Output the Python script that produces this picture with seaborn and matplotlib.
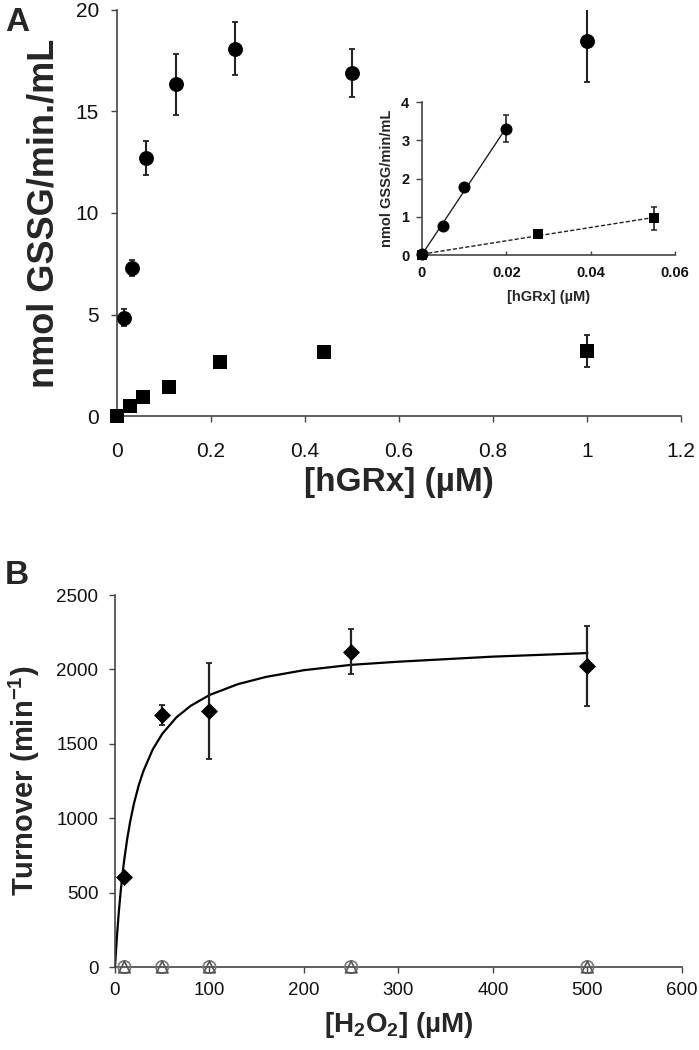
import numpy as np
import pandas as pd
import matplotlib
matplotlib.use("Agg")
import matplotlib.pyplot as plt
import seaborn as sns

sns.set_style("ticks")
plt.rcParams["font.family"] = ["Liberation Sans", "DejaVu Sans"]
plt.rcParams["mathtext.fontset"] = "custom"
plt.rcParams["mathtext.rm"] = "Liberation Sans"
plt.rcParams["mathtext.bf"] = "Liberation Sans:bold"
plt.rcParams["mathtext.default"] = "bf"

# ---------------- Panel A data ----------------
hgrx_circ = [0.015625, 0.03125, 0.0625, 0.125, 0.25, 0.5, 1.0]
rate_circ = [4.85, 7.3, 12.7, 16.35, 18.1, 16.9, 18.45]
err_circ = [0.4, 0.4, 0.85, 1.5, 1.3, 1.2, 2.0]

hgrx_sq = [0.0, 0.0275, 0.055, 0.11, 0.22, 0.44, 1.0]
rate_sq = [0.0, 0.5, 0.95, 1.42, 2.65, 3.15, 3.2]
err_sq = [0.0, 0.0, 0.0, 0.0, 0.0, 0.0, 0.8]

# inset
ins_x_circ = [0.0, 0.005, 0.01, 0.02]
ins_y_circ = [0.02, 0.76, 1.78, 3.3]
ins_e_circ = [0.0, 0.0, 0.0, 0.35]
ins_x_sq = [0.0, 0.0275, 0.055]
ins_y_sq = [0.0, 0.55, 0.96]
ins_e_sq = [0.0, 0.08, 0.3]

a_xticks = [0, 0.2, 0.4, 0.6, 0.8, 1, 1.2]
a_xticklabels = ["0", "0.2", "0.4", "0.6", "0.8", "1", "1.2"]
a_yticks = [0, 5, 10, 15, 20]
ins_xticks = [0, 0.02, 0.04, 0.06]
ins_xticklabels = ["0", "0.02", "0.04", "0.06"]
ins_yticks = [0, 1, 2, 3, 4]

# ---------------- Panel B data ----------------
h2o2 = [10, 50, 100, 250, 500]
turnover = [603, 1696, 1721, 2120, 2025]
turnover_err = [25, 68, 320, 150, 270]
ctrl_circ = [0, 0, 0, 0, 0]
ctrl_tri = [0, 0, 0, 0, 0]

fit_x = [0, 2, 4, 6, 8, 10, 13, 16, 20, 25, 30, 40, 50, 65, 80, 100,
         130, 160, 200, 250, 300, 400, 500]
fit_y = [0, 199, 366, 506, 627, 731, 864, 975, 1097, 1219, 1316, 1463,
         1567, 1678, 1755, 1828, 1901, 1950, 1995, 2031, 2052, 2086, 2110]

b_xticks = [0, 100, 200, 300, 400, 500, 600]
b_yticks = [0, 500, 1000, 1500, 2000, 2500]

SPINE = "#444444"
INK = "#111111"

fig = plt.figure(figsize=(6.99, 10.5), dpi=100)


def style_axes(ax, size, pad_x, pad_y, weight="normal"):
    sns.despine(ax=ax)
    for s in ("left", "bottom"):
        ax.spines[s].set_color(SPINE)
        ax.spines[s].set_linewidth(1.2)
    ax.tick_params(axis="both", colors=SPINE, length=4, width=1.0,
                   labelcolor=INK, labelsize=size)
    ax.tick_params(axis="x", pad=pad_x)
    ax.tick_params(axis="y", pad=pad_y)
    for lab in ax.get_xticklabels() + ax.get_yticklabels():
        lab.set_fontweight(weight)


# ---------------- Panel A main ----------------
ax1 = fig.add_axes([0.1674, 0.6038, 0.8068, 0.3867])
df_c = pd.DataFrame({"x": hgrx_circ, "y": rate_circ, "e": err_circ})
df_s = pd.DataFrame({"x": hgrx_sq, "y": rate_sq, "e": err_sq})
ax1.errorbar(df_c["x"], df_c["y"], yerr=df_c["e"], fmt="none",
             ecolor="#222222", elinewidth=1.5, capsize=2.5, capthick=1.3)
ax1.errorbar(df_s["x"], df_s["y"], yerr=df_s["e"], fmt="none",
             ecolor="#222222", elinewidth=1.5, capsize=2.5, capthick=1.3)
sns.scatterplot(data=df_c, x="x", y="y", ax=ax1, marker="o", color="black",
                s=115, edgecolor="black", linewidth=0, clip_on=False, zorder=3)
sns.scatterplot(data=df_s, x="x", y="y", ax=ax1, marker="s", color="black",
                s=90, edgecolor="black", linewidth=0, clip_on=False, zorder=3)
ax1.set_xlim(0, 1.2)
ax1.set_ylim(0, 20)
ax1.set_xticks(a_xticks)
ax1.set_xticklabels(a_xticklabels)
ax1.set_yticks(a_yticks)
style_axes(ax1, 15, 15, 9)
ax1.set_xlabel("[hGRx] (µM)", fontsize=24, fontweight="bold", labelpad=4)
ax1.set_ylabel("nmol GSSG/min./mL", fontsize=26, fontweight="bold", labelpad=10)
fig.text(0.024, 0.979, "A", fontsize=24, fontweight="bold", ha="center", va="center")

# ---------------- Panel A inset ----------------
ax2 = fig.add_axes([0.6037, 0.7571, 0.362, 0.1457])
di_c = pd.DataFrame({"x": ins_x_circ, "y": ins_y_circ, "e": ins_e_circ})
di_s = pd.DataFrame({"x": ins_x_sq, "y": ins_y_sq, "e": ins_e_sq})
sns.regplot(data=di_c, x="x", y="y", ax=ax2, scatter=False, ci=None,
            truncate=True, line_kws=dict(color="#222222", lw=1.0))
sns.regplot(data=di_s, x="x", y="y", ax=ax2, scatter=False, ci=None,
            truncate=True, line_kws=dict(color="#222222", lw=1.0, ls=(0, (3, 1.5))))
ax2.errorbar(di_c["x"], di_c["y"], yerr=di_c["e"], fmt="none",
             ecolor="#222222", elinewidth=1.2, capsize=2, capthick=1.1)
ax2.errorbar(di_s["x"], di_s["y"], yerr=di_s["e"], fmt="none",
             ecolor="#222222", elinewidth=1.2, capsize=2, capthick=1.1)
sns.scatterplot(data=di_c, x="x", y="y", ax=ax2, marker="o", color="black",
                s=75, linewidth=0, clip_on=False, zorder=3)
sns.scatterplot(data=di_s, x="x", y="y", ax=ax2, marker="s", color="black",
                s=62, linewidth=0, clip_on=False, zorder=3)
ax2.set_xlim(0, 0.06)
ax2.set_ylim(0, 4)
ax2.set_xticks(ins_xticks)
ax2.set_xticklabels(ins_xticklabels)
ax2.set_yticks(ins_yticks)
style_axes(ax2, 10.5, 8, 5, weight="bold")
ax2.tick_params(axis="x", direction="in", length=3)
ax2.set_xlabel("[hGRx] (µM)", fontsize=10.5, fontweight="bold", labelpad=7)
ax2.set_ylabel("nmol GSSG/min/mL", fontsize=10.5, fontweight="bold", labelpad=5)
ax2.patch.set_alpha(0)

# ---------------- Panel B ----------------
ax3 = fig.add_axes([0.1645, 0.0790, 0.811, 0.3543])
db = pd.DataFrame({"x": h2o2, "y": turnover, "e": turnover_err})
dfit = pd.DataFrame({"x": fit_x, "y": fit_y})
dctrl = pd.DataFrame({"x": h2o2, "c": ctrl_circ, "t": ctrl_tri})
sns.lineplot(data=dfit, x="x", y="y", ax=ax3, color="black", lw=1.6)
ax3.errorbar(db["x"], db["y"], yerr=db["e"], fmt="none",
             ecolor="#222222", elinewidth=1.6, capsize=2.5, capthick=1.3)
sns.scatterplot(data=db, x="x", y="y", ax=ax3, marker="D", color="black",
                s=75, linewidth=0, zorder=3)
sns.scatterplot(data=dctrl, x="x", y="c", ax=ax3, marker="o", facecolor="none",
                edgecolor="#777777", s=80, linewidth=1.2, clip_on=False, zorder=3)
sns.scatterplot(data=dctrl, x="x", y="t", ax=ax3, marker="^", facecolor="none",
                edgecolor="#555555", s=70, linewidth=1.2, clip_on=False, zorder=3)
ax3.set_xlim(0, 600)
ax3.set_ylim(0, 2500)
ax3.set_xticks(b_xticks)
ax3.set_yticks(b_yticks)
style_axes(ax3, 13.5, 7, 8)
ax3.set_xlabel("[H$_2$O$_2$] (µM)", fontsize=20, fontweight="bold", labelpad=8)
ax3.set_ylabel("Turnover (min$^{-1}$)", fontsize=21, fontweight="bold", labelpad=10)
fig.text(0.024, 0.452, "B", fontsize=24, fontweight="bold", ha="center", va="center")

fig.savefig("out.png", dpi=100)
